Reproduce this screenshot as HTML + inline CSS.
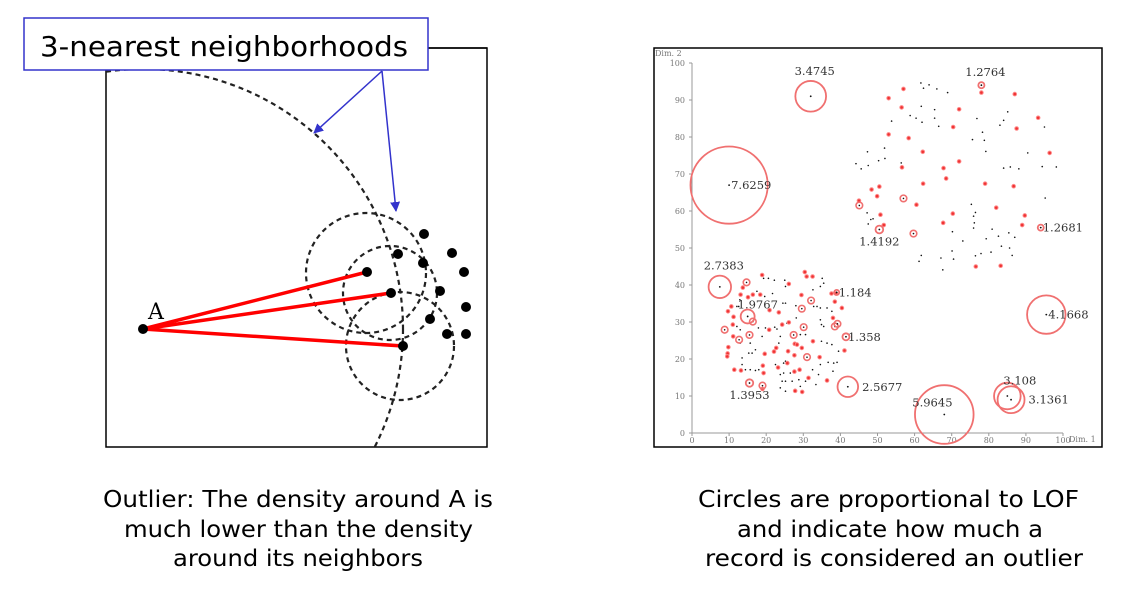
<!DOCTYPE html>
<html><head><meta charset="utf-8"><style>
html,body{margin:0;padding:0;background:#fff;}
svg{display:block;}
.cap{font-family:"DejaVu Sans","Liberation Sans",sans-serif;font-size:23px;fill:#000;}
.tick{font-family:"DejaVu Serif","Liberation Serif",serif;font-size:8px;fill:#777;}
.lbl{font-family:"DejaVu Serif","Liberation Serif",serif;font-size:11.5px;fill:#333;}
</style></head><body>
<svg id="root" width="1125" height="610" viewBox="0 0 1125 610">
  <g>
    <defs>
      <clipPath id="lclip"><rect x="106" y="48" width="381" height="399"/></clipPath>
      <marker id="ah" markerWidth="10" markerHeight="10" refX="9" refY="5" orient="auto" markerUnits="userSpaceOnUse">
        <path d="M0,0 L10,5 L0,10 z" fill="#3333cc"/>
      </marker>
    </defs>
    <rect x="106" y="48" width="381" height="399" fill="none" stroke="#000" stroke-width="1.5"/>
    <g clip-path="url(#lclip)" fill="none" stroke="#222" stroke-width="2.2" stroke-dasharray="5,4">
      <circle cx="143" cy="329" r="260"/>
      <circle cx="366" cy="273" r="60"/>
      <circle cx="390" cy="293" r="47"/>
      <circle cx="400" cy="346" r="54"/>
    </g>
    <g stroke="#ff0000" stroke-width="3.5">
      <line x1="143" y1="329" x2="367" y2="272"/>
      <line x1="143" y1="329" x2="391" y2="293"/>
      <line x1="143" y1="329" x2="403" y2="346"/>
    </g>
    <g fill="#000">
      <circle cx="143" cy="329" r="5"/>
      <circle cx="367" cy="272" r="5"/><circle cx="391" cy="293" r="5"/><circle cx="403" cy="346" r="5"/>
      <circle cx="424" cy="234" r="5"/><circle cx="398" cy="254" r="5"/><circle cx="423" cy="263" r="5"/>
      <circle cx="452" cy="253" r="5"/><circle cx="464" cy="272" r="5"/><circle cx="440" cy="291" r="5"/>
      <circle cx="466" cy="307" r="5"/><circle cx="430" cy="319" r="5"/><circle cx="447" cy="334" r="5"/>
      <circle cx="466" cy="334" r="5"/>
    </g>
    <text x="148" y="319" font-family="DejaVu Serif, Liberation Serif, serif" font-size="22">A</text>
    <line x1="428" y1="48" x2="487" y2="48" stroke="#000" stroke-width="1.5"/>
    <rect x="24" y="18" width="404" height="52" fill="#fff" stroke="#3333cc" stroke-width="1.5"/>
    <text x="40" y="56" textLength="368" lengthAdjust="spacingAndGlyphs" font-family="DejaVu Sans, Liberation Sans, sans-serif" font-size="28">3-nearest neighborhoods</text>
    <g stroke="#3333cc" stroke-width="1.5" fill="none">
      <line x1="382" y1="71" x2="314" y2="133" marker-end="url(#ah)"/>
      <line x1="382" y1="71" x2="396" y2="211" marker-end="url(#ah)"/>
    </g>
    <text class="cap">
      <tspan x="103" y="507" textLength="390" lengthAdjust="spacingAndGlyphs">Outlier: The density around A is</tspan>
      <tspan x="124" y="537" textLength="349" lengthAdjust="spacingAndGlyphs">much lower than the density</tspan>
      <tspan x="173" y="566" textLength="250" lengthAdjust="spacingAndGlyphs">around its neighbors</tspan>
    </text>
  </g>
  <g id="chart">
    <rect x="654" y="48" width="448" height="399" fill="#fff" stroke="#000" stroke-width="1.5"/>
  </g>
  <text class="cap">
    <tspan x="698" y="507" textLength="381" lengthAdjust="spacingAndGlyphs">Circles are proportional to LOF</tspan>
    <tspan x="737" y="537" textLength="306" lengthAdjust="spacingAndGlyphs">and indicate how much a</tspan>
    <tspan x="705" y="566" textLength="378" lengthAdjust="spacingAndGlyphs">record is considered an outlier</tspan>
  </text>
</svg>
<script>
const xTicks=[0,10,20,30,40,50,60,70,80,90,100];
const yTicks=[0,10,20,30,40,50,60,70,80,90,100];
const outX=[10,32,78,94,50.5,7.5,39,15,95.5,41.5,42,15.5,68,85,86];
const outY=[67,91,94,55.5,55,39.5,38,31.5,32,26,12.5,13.5,5,10,9];
const outLof=[7.6259,3.4745,1.2764,1.2681,1.4192,2.7383,1.184,1.9767,4.1668,1.358,2.5677,1.3953,5.9645,3.108,3.1361];
const outText=["7.6259","3.4745","1.2764","1.2681","1.4192","2.7383","1.184","1.9767","4.1668","1.358","2.5677","1.3953","5.9645","3.108","3.1361"];
const labelPlace=["r","a","a","r","b","a","r","ar","r","r","rc","b","ar","ar","rc"];
const circled=[[57,63.4],[45.1,61.5],[59.7,53.9],[14.7,40.7],[32.1,35.8],[29.6,33.6],[38.5,28.8],[39.2,29.5],[8.8,27.9],[12.7,25.2],[15.5,26.5],[16.4,30.1],[30.1,28.6],[27.4,26.5],[31,20.5],[19,12.8]];
const redPts=[[57,93],[53,90.5],[56.5,88],[78,92],[87,91.6],[72,87.5],[70.4,82.7],[87.5,82.3],[93.3,85.2],[53,80.7],[58.4,79.7],[62.2,76],[96.4,75.7],[72,73.4],[56.6,71.8],[67.8,71.6],[68.5,68.8],[62.3,67.4],[79,67.4],[86.7,66.7],[48.4,65.8],[50.5,66.6],[49.9,64],[60.5,61.7],[82,60.9],[50.8,59],[51.7,56.2],[67.7,56.8],[70.3,59.3],[89.7,58.8],[89,56.2],[76.5,45],[83.2,45.2],[45,62.8],
[18.9,42.7],[30.9,42.3],[32.5,42.3],[30.4,43.5],[26.1,40.3],[13.7,39.3],[13.1,37.4],[15.1,36.7],[16.4,37.4],[18.4,37.4],[37.6,37.7],[38.8,37.7],[29.5,37.3],[38.5,35.5],[10.6,34.2],[9.7,32.9],[11.2,31.4],[11,29.3],[40.4,33.8],[23.4,32.6],[20.9,33.2],[38,31.1],[11.1,26.1],[27.7,24.1],[28.3,23.9],[29.6,23],[32.6,24.8],[25.9,22.1],[22.7,23],[22.1,22],[9.8,23.2],[9.6,21.5],[9.5,20.7],[19.6,21.4],[27.6,21],[34.4,20.5],[41.1,22.3],[11.4,17.1],[13.2,16.9],[19.1,18.2],[19.3,16.2],[27.6,16.6],[29,17.1],[31.4,14.9],[36.4,14.2],[19,11.9],[27.8,11.4],[29.7,11.1],[25.7,18.9],[23.2,17.7],[20.8,27.9],[24.3,29.3],[26.1,29.9]];
const blackPts=[[61.7,94.6],[63.9,94.1],[66,93],[68.9,92],[62.4,93.2],[53.8,84.3],[58.8,85.8],[60.4,85.1],[61.8,88.3],[65.4,87.4],[65.4,85.1],[62,84],[66.5,82.9],[51.9,77],[52,74.2],[47.3,76],[50.3,73.6],[44.2,72.8],[45.6,71.4],[47.5,72.3],[56.4,73],[76.8,85],[85.1,86.8],[84,84.5],[83,83.2],[78.3,81.3],[75.6,79.3],[78.8,79.1],[79.2,76.1],[90.5,75.7],[95,82.7],[98.2,71.9],[94.4,72],[88.1,71.4],[85.8,71.9],[84,71.6],[95.2,63.5],[75.3,61.8],[76.4,59.6],[75.9,58.6],[76.1,56.8],[75.9,55.4],[80.9,55.1],[79.3,52.5],[73,51.9],[82.6,53.2],[85.4,54.1],[87,52.9],[83.4,50.5],[85.6,50],[86.3,48],[80.6,48.9],[77.9,48.5],[76.4,47.9],[70.1,49.2],[70.5,47],[67.1,47.3],[67.6,44.1],[61.8,48],[61.2,46.4],[47.2,59.5],[48.2,57.7],[48.8,57.9],[47.5,56.5],[70.2,54.4],
[19.3,41.8],[20.6,41.8],[22.2,41.3],[25,41.3],[25.2,39.6],[35.1,41.8],[35.5,40.5],[34.6,39.6],[32.6,38.7],[17.5,38.3],[19.6,36.9],[21.7,37.7],[12.9,36],[12.1,34.2],[12.6,34.2],[24.5,35.1],[25.2,35.1],[28,34.4],[32.8,34.2],[33.7,34.2],[34.6,33.8],[36.4,33.8],[37.7,32.9],[28.1,31.1],[34.6,30.6],[34.9,29.3],[35.5,28.8],[25.6,29.7],[17.9,28.4],[19.8,28.4],[22.3,28.6],[22.9,28.1],[12.1,28.8],[13,27.9],[23.8,26.1],[29.2,26.6],[30.6,26.6],[18.9,26.1],[15.7,24.3],[13,24.3],[23.4,24.3],[34.9,24.8],[36.4,24.3],[37.7,23.9],[39.5,22.1],[15.3,21.6],[16.2,21.6],[17.1,22.5],[13.5,20.3],[22.5,18.5],[22.9,17.6],[24.7,18.9],[25.2,19.4],[34.6,18.5],[36.7,19.1],[38.2,18.9],[39.1,19.1],[38,16.7],[14.4,17.1],[15.7,17.1],[17.1,16.9],[18,17.1],[13.5,18.5],[23.8,15.8],[24.7,16.2],[26.5,16.2],[24.3,14],[25.2,14],[27,14],[23.8,12.2],[25.2,11.3],[29.2,12.6],[30.6,14],[33.4,13.1],[32.5,17.1],[34.1,15.8],[28.8,14.4]];

const NS='http://www.w3.org/2000/svg';
const g=document.getElementById('chart');
const X0=692,X1=1063,Y0=433,Y1=63;
function sx(v){return X0+(v-0)/(100-0)*(X1-X0);}
function sy(v){return Y0-(v-0)/(100-0)*(Y0-Y1);}
function rad(l){return 5.6*(l-1)+1.5;}
function mk(tag,attrs,parent){const e=document.createElementNS(NS,tag);for(const k in attrs)e.setAttribute(k,attrs[k]);(parent||g).appendChild(e);return e;}

let ax=mk('line',{x1:sx(0),y1:sy(0),x2:sx(100),y2:sy(0),stroke:'#999','stroke-width':1});


let ay=mk('line',{x1:sx(0),y1:sy(0),x2:sx(0),y2:sy(100),stroke:'#999','stroke-width':1});


xTicks.forEach(t=>{
  mk('line',{x1:sx(t),y1:sy(0),x2:sx(t),y2:sy(0)+3,stroke:'#999'});
  const tx=mk('text',{x:sx(t),y:sy(0)+10,'text-anchor':'middle',class:'tick'});
  tx.textContent=t;
  
  
});
yTicks.forEach(t=>{
  mk('line',{x1:sx(0)-3,y1:sy(t),x2:sx(0),y2:sy(t),stroke:'#999'});
  const tx=mk('text',{x:sx(0)-7,y:sy(t)+3,'text-anchor':'end',class:'tick'});
  tx.textContent=t;
  
  
});
let d2=mk('text',{x:655,y:56,class:'tick',fill:'#444'});d2.textContent='Dim. 2';


let d1=mk('text',{x:1069,y:442,class:'tick',fill:'#444'});d1.textContent='Dim. 1';



blackPts.forEach(p=>{
  const c=mk('circle',{cx:sx(p[0]),cy:sy(p[1]),r:0.8,fill:'#111'});
  
  
});
redPts.forEach(p=>{
  const c=mk('circle',{cx:sx(p[0]),cy:sy(p[1]),r:1.8,fill:'#e33',stroke:'#f88','stroke-width':1});
  
  
});
circled.forEach(p=>{
  const c=mk('circle',{cx:sx(p[0]),cy:sy(p[1]),r:3.3,fill:'none',stroke:'#f07070','stroke-width':1.6});
  
  
  mk('circle',{cx:sx(p[0]),cy:sy(p[1]),r:0.8,fill:'#111'});
});
outX.forEach((x,i)=>{
  const cx=sx(x),cy=sy(outY[i]),r=rad(outLof[i]);
  const c=mk('circle',{cx:cx,cy:cy,r:r,fill:'none',stroke:'#f07070','stroke-width':1.8});
  
  
  mk('circle',{cx:cx,cy:cy,r:0.9,fill:'#111'});
  let tx,ty,anc='start';
  const pl=labelPlace[i];
  if(pl==='r'){tx=cx+2;ty=cy+4;}
  else if(pl==='rc'){tx=cx+r+4;ty=cy+4;}
  else if(pl==='a'){tx=cx+4;ty=cy-r-6;anc='middle';}
  else if(pl==='b'){tx=cx;ty=cy+r+12;anc='middle';}
  else {tx=cx-4;ty=cy-r+2;}
  if(pl==='ar' && outLof[i]>5){tx=cx-32;ty=cy-8;}
  if(pl==='ar' && outLof[i]<2.5){tx=cx-10;ty=cy-r-1;}
  const t=mk('text',{x:tx,y:ty,'text-anchor':anc,class:'lbl'});
  t.textContent=outText[i];
  
  
});
</script>
</body></html>
